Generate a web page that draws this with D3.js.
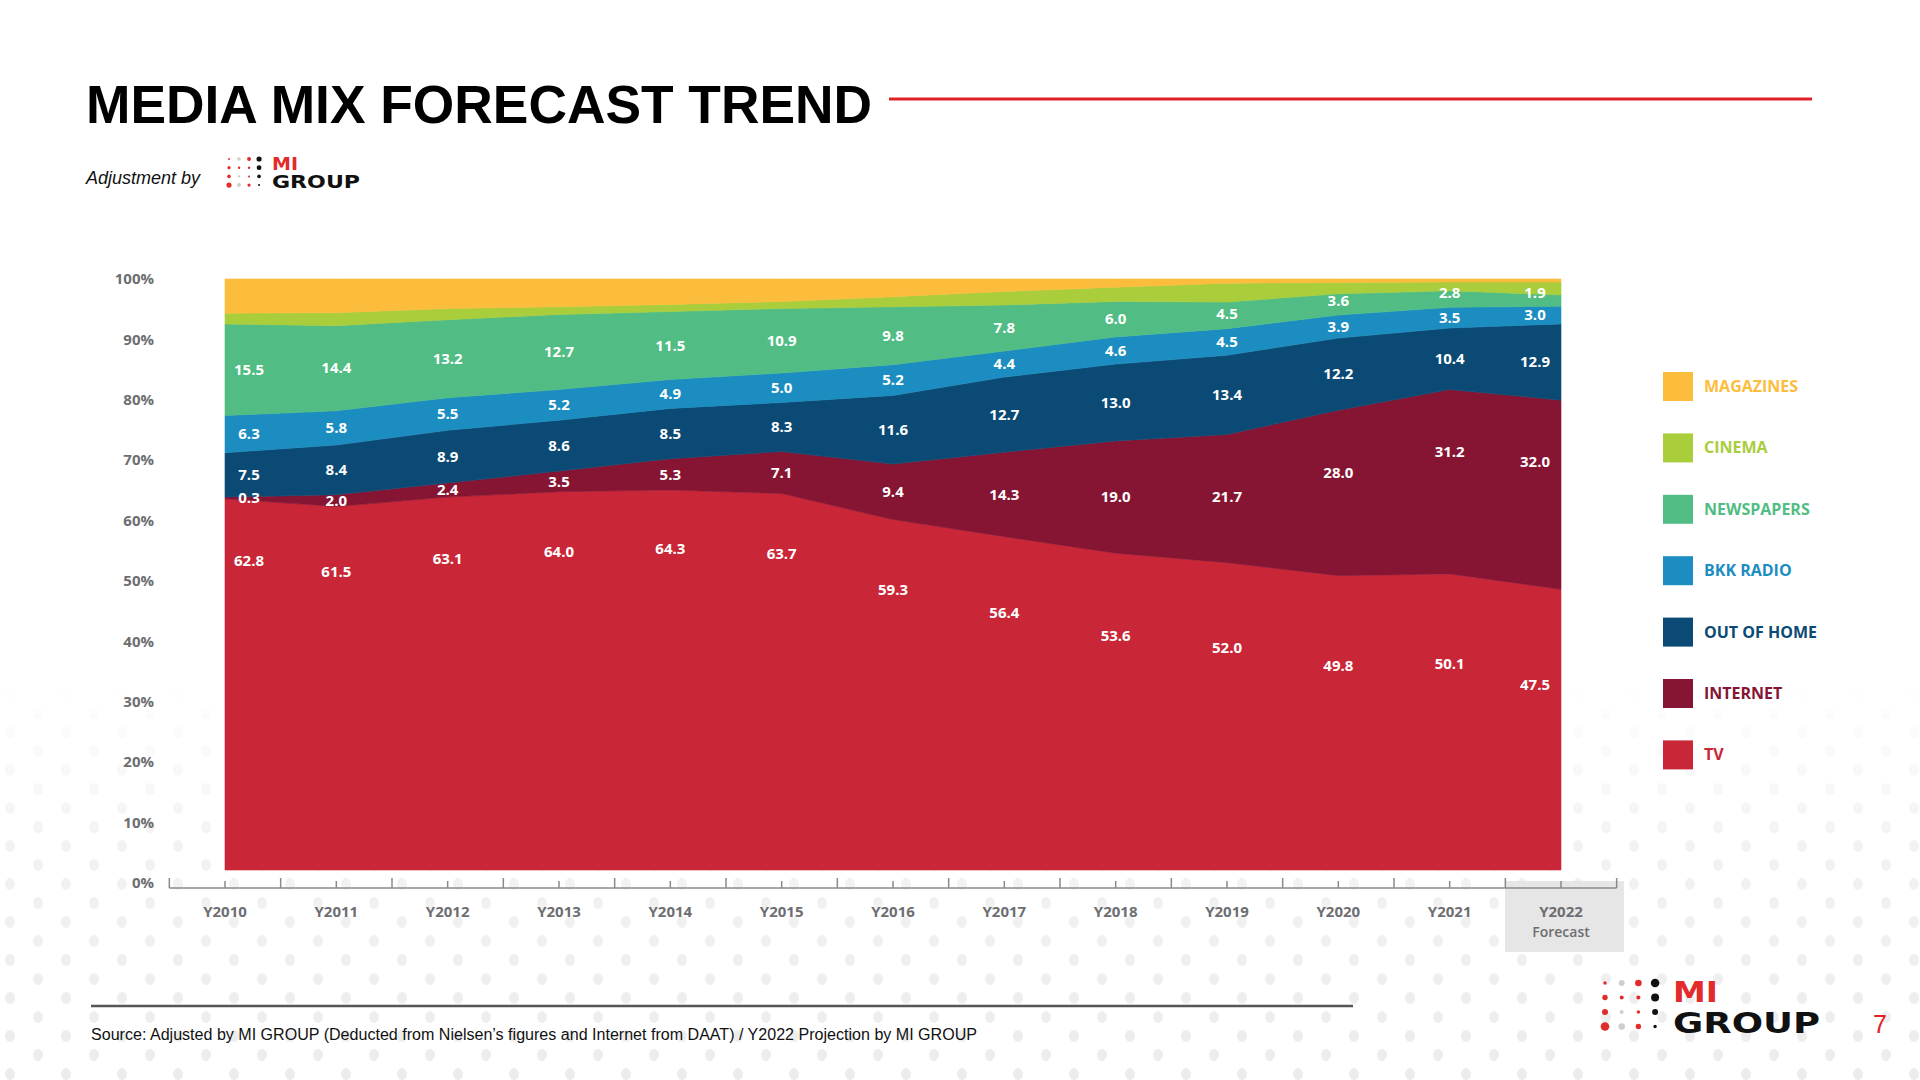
<!DOCTYPE html>
<html>
<head>
<meta charset="utf-8">
<title>Media Mix Forecast Trend</title>
<script src="https://cdn.jsdelivr.net/npm/d3@7"></script>
<style>
  body { margin: 0; background: #fff; }
  svg { display: block; }
</style>
</head>
<body>
<script>
// data (share of media spend, %)
const years = ['Y2010', 'Y2011', 'Y2012', 'Y2013', 'Y2014', 'Y2015', 'Y2016',
               'Y2017', 'Y2018', 'Y2019', 'Y2020', 'Y2021', 'Y2022'];
const tv         = [62.8, 61.5, 63.1, 64.0, 64.3, 63.7, 59.3, 56.4, 53.6, 52.0, 49.8, 50.1, 47.5];
const internet   = [0.3, 2.0, 2.4, 3.5, 5.3, 7.1, 9.4, 14.3, 19.0, 21.7, 28.0, 31.2, 32.0];
const outOfHome  = [7.5, 8.4, 8.9, 8.6, 8.5, 8.3, 11.6, 12.7, 13.0, 13.4, 12.2, 10.4, 12.9];
const bkkRadio   = [6.3, 5.8, 5.5, 5.2, 4.9, 5.0, 5.2, 4.4, 4.6, 4.5, 3.9, 3.5, 3.0];
const newspapers = [15.5, 14.4, 13.2, 12.7, 11.5, 10.9, 9.8, 7.8, 6.0, 4.5, 3.6, 2.8, 1.9];
// cinema and magazines carry no labels, read off the band widths
const cinema     = [1.8, 2.2, 1.9, 1.3, 1.2, 1.2, 1.7, 2.3, 2.4, 3.2, 1.9, 1.5, 2.2];
const magazines  = [5.8, 5.7, 5.0, 4.7, 4.3, 3.8, 3.0, 2.1, 1.4, 0.7, 0.6, 0.5, 0.5];

const seriesKeys   = ['TV', 'INTERNET', 'OUT OF HOME', 'BKK RADIO', 'NEWSPAPERS', 'CINEMA', 'MAGAZINES'];
const seriesValues = [tv, internet, outOfHome, bkkRadio, newspapers, cinema, magazines];
const labelledKeys = ['TV', 'INTERNET', 'OUT OF HOME', 'BKK RADIO', 'NEWSPAPERS'];
const yTicks = [0, 10, 20, 30, 40, 50, 60, 70, 80, 90, 100];

const colors = {
  'TV': '#c92737',
  'INTERNET': '#861534',
  'OUT OF HOME': '#0b4a74',
  'BKK RADIO': '#1c8dc0',
  'NEWSPAPERS': '#51bd84',
  'CINEMA': '#a9cd3b',
  'MAGAZINES': '#fdbd3c'
};

const W = 1920, H = 1080;
const chartFont = '"Open Sans", "DejaVu Sans", sans-serif';

const svg = d3.select('body').append('svg')
    .attr('width', W)
    .attr('height', H);

svg.append('rect').attr('width', W).attr('height', H).attr('fill', '#fff');

// decorative dot background, fading in towards the bottom
const defs = svg.append('defs');
const pat = defs.append('pattern')
    .attr('id', 'dots')
    .attr('patternUnits', 'userSpaceOnUse')
    .attr('width', 56).attr('height', 38);
pat.append('ellipse').attr('cx', 10).attr('cy', 10).attr('rx', 5).attr('ry', 6).attr('fill', '#ececec');
pat.append('ellipse').attr('cx', 38).attr('cy', 29).attr('rx', 5).attr('ry', 6).attr('fill', '#ececec');

const grad = defs.append('linearGradient')
    .attr('id', 'fade')
    .attr('x1', 0).attr('y1', 0).attr('x2', 0).attr('y2', 1);
grad.append('stop').attr('offset', '0%').attr('stop-color', '#fff').attr('stop-opacity', 0);
grad.append('stop').attr('offset', '45%').attr('stop-color', '#fff').attr('stop-opacity', 0.7);
grad.append('stop').attr('offset', '100%').attr('stop-color', '#fff').attr('stop-opacity', 1);
const mask = defs.append('mask').attr('id', 'dotmask');
mask.append('rect').attr('x', 0).attr('y', 680).attr('width', W).attr('height', 400).attr('fill', 'url(#fade)');

svg.append('rect')
    .attr('x', 0).attr('y', 680).attr('width', W).attr('height', 400)
    .attr('fill', 'url(#dots)')
    .attr('mask', 'url(#dotmask)');

// ---- header ----
svg.append('text')
    .attr('x', 86).attr('y', 123)
    .attr('font-family', '"Liberation Sans", Arial, sans-serif')
    .attr('font-weight', 'bold')
    .attr('font-size', 54)
    .attr('textLength', 786)
    .attr('lengthAdjust', 'spacingAndGlyphs')
    .attr('fill', '#000')
    .text('MEDIA MIX FORECAST TREND');

svg.append('line')
    .attr('x1', 889).attr('x2', 1812)
    .attr('y1', 99).attr('y2', 99)
    .attr('stroke', '#e02227')
    .attr('stroke-width', 3);

svg.append('text')
    .attr('x', 86).attr('y', 184)
    .attr('font-family', '"Liberation Sans", Arial, sans-serif')
    .attr('font-style', 'italic')
    .attr('font-size', 18)
    .attr('fill', '#111')
    .text('Adjustment by');

// MI GROUP logo: 4x4 dot grid + wordmark
const logoDots = [
  ['#e22b2b', 1.7], ['#cfcfcf', 3.0], ['#e22b2b', 3.3], ['#111', 4.3],
  ['#e22b2b', 2.7], ['#e22b2b', 2.0], ['#e22b2b', 2.0], ['#111', 4.0],
  ['#e22b2b', 3.0], ['#cfcfcf', 2.0], ['#e22b2b', 1.7], ['#111', 3.0],
  ['#e22b2b', 4.3], ['#cfcfcf', 3.3], ['#e22b2b', 2.7], ['#111', 1.7]
];

function drawLogo(x0, y0, s, fontSize, miWidth, groupWidth, textX, miY, groupY) {
  const g = svg.append('g');
  logoDots.forEach((d, i) => {
    g.append('circle')
        .attr('cx', x0 + (i % 4) * 16.7 * s)
        .attr('cy', y0 + Math.floor(i / 4) * 14.5 * s)
        .attr('r', d[1] * s)
        .attr('fill', d[0]);
  });
  g.append('text')
      .attr('x', textX).attr('y', miY)
      .attr('font-family', '"DejaVu Sans", sans-serif')
      .attr('font-weight', 'bold')
      .attr('font-size', fontSize)
      .attr('textLength', miWidth)
      .attr('lengthAdjust', 'spacingAndGlyphs')
      .attr('fill', '#e22b2b')
      .text('MI');
  g.append('text')
      .attr('x', textX).attr('y', groupY)
      .attr('font-family', '"DejaVu Sans", sans-serif')
      .attr('font-weight', 'bold')
      .attr('font-size', fontSize)
      .attr('textLength', groupWidth)
      .attr('lengthAdjust', 'spacingAndGlyphs')
      .attr('fill', '#111')
      .text('GROUP');
}
drawLogo(229, 159, 0.6, 18, 26, 88, 272, 170, 188);
drawLogo(1605, 983, 1, 28, 45, 147, 1673, 1002, 1033);

// ---- chart ----
const x = d3.scalePoint().domain(years).range([225, 1561]);
const yArea = d3.scaleLinear().domain([0, 100]).range([870, 279]);
const yAxis = d3.scaleLinear().domain([0, 100]).range([883, 279]);

const table = years.map((yr, i) => {
  const row = { year: yr };
  seriesKeys.forEach((k, j) => { row[k] = seriesValues[j][i]; });
  return row;
});

const stack = d3.stack().keys(seriesKeys).order(d3.stackOrderNone).offset(d3.stackOffsetNone);
const stacked = stack(table);

const area = d3.area()
    .x(d => x(d.data.year))
    .y0(d => yArea(d[0]))
    .y1(d => yArea(d[1]))
    .curve(d3.curveLinear);

svg.append('g')
  .selectAll('path')
  .data(stacked)
  .enter().append('path')
    .attr('d', area)
    .attr('fill', d => colors[d.key])
    .attr('stroke', d => colors[d.key])
    .attr('stroke-width', 0.6);

// value labels
const labelLeft = x.range()[0] + 24;
const labelRight = x.range()[1] - 26;
// TV labels drop further below the band top as the share shrinks
const tvLabelDrop = d3.scaleLinear().domain([47.5, 64.3]).range([16.1, 10.0]);

function labelPos(key, d) {
  const v = d.data[key];
  if (key === 'TV') return d[1] - tvLabelDrop(v);
  const mid = (d[0] + d[1]) / 2;
  // thin bands: nudge the label up a little; wide bands: keep it near the top
  const nudge = key === 'NEWSPAPERS' ? Math.max(0, 5 - v) * 0.45 : 0;
  return Math.max(mid + nudge, d[1] - 10.5);
}

const labelG = svg.append('g')
    .attr('font-family', chartFont)
    .attr('font-weight', 700)
    .attr('font-size', 15)
    .attr('fill', '#fff')
    .attr('text-anchor', 'middle');

stacked.filter(s => labelledKeys.includes(s.key)).forEach(s => {
  s.forEach(d => {
    const lx = Math.min(labelRight, Math.max(labelLeft, x(d.data.year)));
    labelG.append('text')
        .attr('x', lx)
        .attr('y', yArea(labelPos(s.key, d)))
        .attr('dy', '0.35em')
        .text(d3.format('.1f')(d.data[s.key]));
  });
});

// y axis labels
svg.append('g')
    .attr('font-family', chartFont)
    .attr('font-weight', 700)
    .attr('font-size', 15)
    .attr('fill', '#6d6e71')
    .attr('text-anchor', 'end')
  .selectAll('text')
  .data(yTicks)
  .enter().append('text')
    .attr('x', 154)
    .attr('y', d => yAxis(d))
    .attr('dy', '0.35em')
    .text(d => d + '%');

// forecast highlight box
const step = x.step();
const last = years[years.length - 1];
svg.append('rect')
    .attr('x', x(last) - 56).attr('y', 881)
    .attr('width', 119).attr('height', 71)
    .attr('fill', '#e6e6e6');

// x axis line with ticks
const axisY = 888;
const axisG = svg.append('g').attr('stroke', '#8a8a8a').attr('stroke-width', 1.5);
const bounds = years.map(d => x(d) - step / 2).concat([x(last) + step / 2]);
axisG.append('line')
    .attr('x1', bounds[0]).attr('x2', bounds[bounds.length - 1])
    .attr('y1', axisY).attr('y2', axisY);
axisG.selectAll('.tall')
  .data(bounds)
  .enter().append('line')
    .attr('x1', d => d).attr('x2', d => d)
    .attr('y1', axisY - 10).attr('y2', axisY);
axisG.selectAll('.short')
  .data(years)
  .enter().append('line')
    .attr('x1', d => x(d)).attr('x2', d => x(d))
    .attr('y1', axisY - 7).attr('y2', axisY);

const xLabels = svg.append('g')
    .attr('font-family', chartFont)
    .attr('font-weight', 700)
    .attr('font-size', 15)
    .attr('fill', '#6d6e71')
    .attr('text-anchor', 'middle');
xLabels.selectAll('text')
  .data(years)
  .enter().append('text')
    .attr('x', d => x(d))
    .attr('y', 917)
    .text(d => d);
xLabels.append('text')
    .attr('x', x(last))
    .attr('y', 937)
    .attr('font-weight', 600)
    .attr('font-size', 14)
    .text('Forecast');

// legend
const legendKeys = seriesKeys.slice().reverse();
const legend = svg.append('g')
  .selectAll('g')
  .data(legendKeys)
  .enter().append('g')
    .attr('transform', (d, i) => 'translate(1663,' + (372 + i * 61.4) + ')');
legend.append('rect')
    .attr('width', 30).attr('height', 29)
    .attr('fill', d => colors[d]);
legend.append('text')
    .attr('x', 41).attr('y', 14.5)
    .attr('dy', '0.35em')
    .attr('font-family', chartFont)
    .attr('font-weight', 700)
    .attr('font-size', 16)
    .attr('fill', d => colors[d])
    .text(d => d);

// ---- footer ----
svg.append('line')
    .attr('x1', 91).attr('x2', 1353)
    .attr('y1', 1006).attr('y2', 1006)
    .attr('stroke', '#555')
    .attr('stroke-width', 2.5);

svg.append('text')
    .attr('x', 91).attr('y', 1040)
    .attr('font-family', '"Liberation Sans", Arial, sans-serif')
    .attr('font-size', 16)
    .attr('textLength', 886)
    .attr('lengthAdjust', 'spacingAndGlyphs')
    .attr('fill', '#111')
    .text('Source: Adjusted by MI GROUP (Deducted from Nielsen\u2019s figures and Internet from DAAT) / Y2022 Projection by MI GROUP');

svg.append('text')
    .attr('x', 1873).attr('y', 1033)
    .attr('font-family', '"Liberation Sans", Arial, sans-serif')
    .attr('font-size', 25)
    .attr('fill', '#e02227')
    .text('7');
</script>
</body>
</html>
